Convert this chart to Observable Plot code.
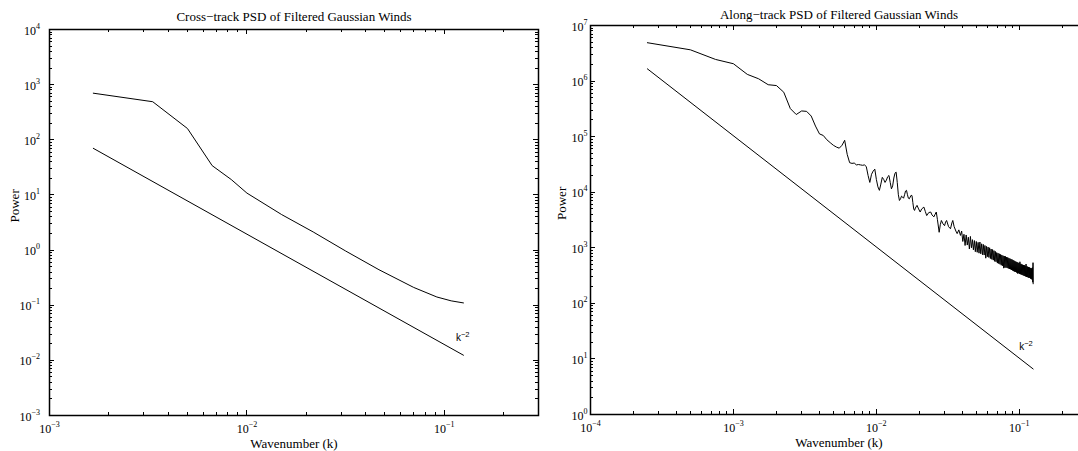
<!DOCTYPE html>
<html>
<head>
<meta charset="utf-8">
<script src="https://cdn.jsdelivr.net/npm/d3@7"></script>
<script src="https://cdn.jsdelivr.net/npm/@observablehq/plot@0.6"></script>
<style>
html, body { margin: 0; padding: 0; background: #fff; }
#wrap { position: relative; width: 1078px; height: 451px; overflow: hidden; background: #fff; }
#left { position: absolute; left: 0; top: 0; width: 541px; }
#right { position: absolute; left: 540px; top: 0; width: 560px; }
</style>
</head>
<body>
<div id="wrap"><div id="left"></div><div id="right"></div></div>
<script>
// ---------- data ----------
const titles = ["Cross\u2212track PSD of Filtered Gaussian Winds", "Along\u2212track PSD of Filtered Gaussian Winds"];
const xLabel = "Wavenumber (k)";
const yLabel = "Power";
const refLabel = "k^\u22122";

// Cross-track spectrum (wavenumber, power)
const crossK = [0.0016667, 0.0033333, 0.005, 0.0066667, 0.0083333, 0.01, 0.015, 0.021667, 0.031667, 0.046667, 0.07, 0.091667, 0.108333, 0.125];
const crossPower = [700, 490, 160, 34, 19, 10.8, 4.4, 2.13, 0.96, 0.44, 0.21, 0.141, 0.12, 0.11];
const crossRefK = [0.0016667, 0.125];
const crossRefPower = [70, 0.0124];

// Along-track spectrum: harmonic number n (wavenumber = n * alongDk), power
const alongDk = 0.00025;
const alongN = [
  1,2,3,4,5,6,7,8,9,10,
  11,12,13,14,15,16,17,18,19,20,
  21,22,23,24,25,26,27,28,29,30,
  31,32,33,34,35,36,37,38,39,40,
  41,42,43,44,45,46,47,48,49,50,
  51,52,53,54,55,56,57,58,59,60,
  61,62,63,64,65,66,67,68,69,70,
  71,72,73,74,75,
  77,79,81,83,86,88,90,93,96,98,
  101,103,105,107,110,112,114,117,120,122,124,
  128,132,135,137,140,144,147,151,155,
  158,161,164,167,170,173,176,179,182,185,
  188,191,194,197,200,203,206,209,212,215,
  218,221,224,227,230,233,236,239,242,245,
  248,251,254,257,260,263,266,269,272,275,
  278,281,284,287,290,293,296,299,302,305,
  308,311,314,317,320,323,326,329,332,335,
  338,341,344,347,350,353,356,359,362,365,
  368,371,374,377,380,383,386,389,392,395,
  398,401,404,407,410,413,416,419,422,425,
  428,431,434,437,440,443,446,449,452,455,
  458,461,464,467,470,473,476,479,482,485,
  488,491,494,497,499,500
];
const alongPower = [
  4.9e6,3.65e6,2.45e6,2.05e6,1.32e6,1.1e6,8.6e5,8.3e5,6.3e5,3.2e5,
  2.5e5,2.9e5,2.85e5,2.35e5,1.55e5,1.12e5,1.05e5,8.8e4,7.8e4,7.0e4,
  6.5e4,6.2e4,7.0e4,8.6e4,4.8e4,3.4e4,3.3e4,3.35e4,3.1e4,3.15e4,
  3.1e4,3.05e4,3.1e4,2.9e4,2.0e4,1.5e4,2.1e4,2.4e4,2.6e4,1.7e4,
  1.25e4,1.08e4,1.4e4,1.85e4,1.7e4,1.5e4,1.65e4,1.9e4,2.0e4,1.5e4,
  1.15e4,1.3e4,1.8e4,2.2e4,2.3e4,1.5e4,9.0e3,7.1e3,7.6e3,8.5e3,
  8.2e3,7.8e3,9.0e3,1.05e4,1.08e4,9.0e3,7.8e3,7.6e3,8.2e3,8.8e3,
  8.7e3,6.5e3,5.0e3,4.7e3,5.2e3,
  5.8e3,5.0e3,4.4e3,5.0e3,5.4e3,4.5e3,3.8e3,4.3e3,4.4e3,3.9e3,
  3.6e3,4.0e3,4.4e3,3.2e3,1.9e3,2.6e3,3.1e3,2.7e3,2.5e3,2.9e3,3.1e3,
  2.4e3,2.2e3,2.8e3,3.1e3,2.4e3,2.0e3,1.8e3,2.1e3,1.67e3,
  2000,1300,1750,1100,1700,1120,1550,950,1600,1000,
  1400,920,1350,850,1300,830,1250,800,1270,780,
  1180,750,1150,740,1100,650,1060,690,1030,670,
  1000,640,950,620,930,600,890,570,860,560,
  820,530,800,520,780,505,760,485,740,475,
  720,430,710,440,700,440,680,435,670,425,
  650,415,640,410,625,400,615,390,600,380,
  585,372,570,368,560,358,550,345,540,348,
  530,340,560,335,515,330,505,325,495,320,
  490,315,485,310,475,305,510,300,465,298,
  455,292,450,288,445,288,435,280,430,275,
  425,268,440,240,540,225
];
const alongRefK = [0.00025, 0.125];
const alongRefPower = [1.66e6, 6.6];

// tick values
const crossXTicks = [1e-3, 1e-2, 1e-1];
const crossYTicks = [1e-3, 1e-2, 1e-1, 1e0, 1e1, 1e2, 1e3, 1e4];
const alongXTicks = [1e-4, 1e-3, 1e-2, 1e-1];
const alongYTicks = [1e0, 1e1, 1e2, 1e3, 1e4, 1e5, 1e6, 1e7];

// ---------- helpers ----------
const SVGNS = "http://www.w3.org/2000/svg";
const fmtExp = e => (e < 0 ? "\u2212" + (-e) : String(e));
const tickFmt = d => "10^" + fmtExp(Math.round(Math.log10(d)));

function minorTicks([lo, hi]) {
  const out = [];
  for (let e = Math.floor(Math.log10(lo)); e <= Math.ceil(Math.log10(hi)); e++) {
    for (let m = 2; m <= 9; m++) {
      const v = m * Math.pow(10, e);
      if (v > lo * 1.0001 && v < hi * 0.9999) out.push(v);
    }
  }
  return out;
}

function superscripts(svg, supSize, supDy) {
  svg.querySelectorAll("text").forEach(t => {
    const s = t.textContent;
    const i = s.indexOf("^");
    if (i < 0) return;
    while (t.firstChild) t.removeChild(t.firstChild);
    t.appendChild(document.createTextNode(s.slice(0, i)));
    const ts = document.createElementNS(SVGNS, "tspan");
    ts.setAttribute("dy", supDy);
    ts.setAttribute("font-size", supSize);
    ts.textContent = s.slice(i + 1);
    t.appendChild(ts);
  });
}

// inward box ticks on all four sides, positioned with the plot's own scales
function addBoxTicks(svg, o) {
  const sx = svg.scale("x"), sy = svg.scale("y");
  const left = o.ml, right = o.width - o.mr, top = o.mt, bottom = 451 - o.mb;
  const g = document.createElementNS(SVGNS, "g");
  g.setAttribute("stroke", "black");
  g.setAttribute("stroke-width", "1");
  g.setAttribute("aria-label", "box ticks");
  const seg = (x1, y1, x2, y2) => {
    const l = document.createElementNS(SVGNS, "line");
    l.setAttribute("x1", x1); l.setAttribute("y1", y1);
    l.setAttribute("x2", x2); l.setAttribute("y2", y2);
    g.appendChild(l);
  };
  const big = 5, small = 3;
  for (const [vals, len] of [[o.xMajor, big], [minorTicks(o.xDomain), small]]) {
    for (const v of vals) {
      const x = Math.round(sx.apply(v)) + 0.5;
      seg(x, bottom, x, bottom - len);
      seg(x, top, x, top + len);
    }
  }
  for (const [vals, len] of [[o.yMajor, big], [minorTicks(o.yDomain), small]]) {
    for (const v of vals) {
      const y = Math.round(sy.apply(v)) + 0.5;
      seg(left, y, left + len, y);
      seg(right, y, right - len, y);
    }
  }
  svg.appendChild(g);
}

function panel(o) {
  const series = o.k.map((k, i) => ({k, p: o.p[i]}));
  const ref = o.refK.map((k, i) => ({k, p: o.refP[i]}));
  const refEnd = [ref[ref.length - 1]];
  const svg = Plot.plot({
    width: o.width, height: 451,
    marginLeft: o.ml, marginRight: o.mr, marginTop: o.mt, marginBottom: o.mb,
    style: {fontFamily: "'Liberation Serif', 'Times New Roman', serif", fontSize: "12px", color: "black", background: "white", overflow: "visible"},
    x: {type: "log", domain: o.xDomain, label: null},
    y: {type: "log", domain: o.yDomain, label: null},
    marks: [
      Plot.axisX(o.xMajor, {anchor: "bottom", tickSize: 0, tickPadding: 9, tickFormat: tickFmt, fill: "black", label: null}),
      Plot.axisY(o.yMajor, {anchor: "left", tickSize: 0, tickPadding: o.yPad, tickFormat: tickFmt, fill: "black", dy: 1.2, label: null}),
      Plot.line(ref, {x: "k", y: "p", stroke: "black", strokeWidth: 1}),
      Plot.line(series, {x: "k", y: "p", stroke: "black", strokeWidth: 1}),
      Plot.text(refEnd, {x: "k", y: "p", text: () => refLabel, dx: o.refDx, dy: o.refDy, textAnchor: "start", lineAnchor: "bottom",
        fontFamily: "'Liberation Sans', Arial, sans-serif", fontSize: 10, fill: "black"}),
      Plot.text([o.title], {text: d => d, frameAnchor: "top", lineAnchor: "bottom", dy: o.titleDy, fontSize: 13, fill: "black"}),
      Plot.text([xLabel], {text: d => d, frameAnchor: "bottom", lineAnchor: "bottom", dy: 32.5, fontSize: 13, fill: "black"}),
      Plot.text([yLabel], {text: d => d, frameAnchor: "left", rotate: -90, lineAnchor: "middle", dx: o.yLabDx, fontSize: 13, fill: "black"}),
      Plot.frame({stroke: "black", strokeWidth: 1.5})
    ]
  });
  addBoxTicks(svg, o);
  superscripts(svg, 8, -6);
  svg.querySelectorAll("text").forEach(t => {
    const ff = t.getAttribute("font-family") || (t.parentNode && t.parentNode.getAttribute && t.parentNode.getAttribute("font-family")) || "";
    if (ff.includes("Sans")) {
      const ts = t.querySelector("tspan");
      if (ts) { ts.setAttribute("font-size", 7.5); ts.setAttribute("dy", -4); }
    }
  });
  return svg;
}

document.getElementById("left").appendChild(panel({
  width: 541, ml: 49, mr: 3, mt: 29, mb: 36,
  xDomain: [0.001, 0.3], yDomain: [1e-3, 1e4],
  xMajor: crossXTicks, yMajor: crossYTicks,
  k: crossK, p: crossPower, refK: crossRefK, refP: crossRefPower,
  refDx: -7.5, refDy: -14, title: titles[0], titleDy: -9, yLabDx: -35, yPad: 9.5
}));

document.getElementById("right").appendChild(panel({
  width: 560, ml: 50, mr: 13, mt: 25, mb: 37,
  xDomain: [0.0001, 0.3], yDomain: [1, 1e7],
  xMajor: alongXTicks, yMajor: alongYTicks,
  k: alongN.map(n => n * alongDk), p: alongPower, refK: alongRefK, refP: alongRefPower,
  refDx: -14, refDy: -19.3, title: titles[1], titleDy: -6.7, yLabDx: -29, yPad: 3
}));
</script>
</body>
</html>
